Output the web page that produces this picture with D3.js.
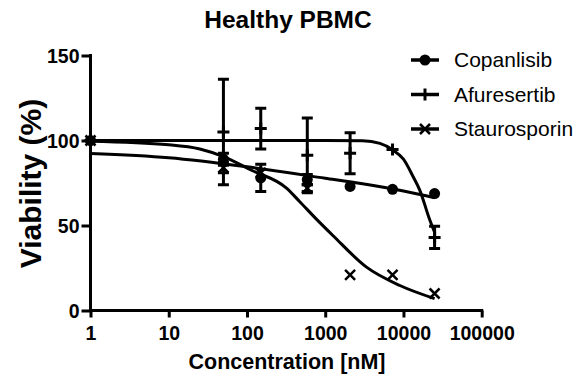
<!DOCTYPE html>
<html>
<head>
<meta charset="utf-8">
<script src="https://cdn.jsdelivr.net/npm/d3@7/dist/d3.min.js"></script>
<style>
  html, body { margin: 0; padding: 0; background: #fff; }
  svg { display: block; font-family: "Liberation Sans", Arial, sans-serif; }
</style>
</head>
<body>
<svg id="chart" width="576" height="376"></svg>
<script>
// ---- data ----
const concentrations = [1, 50, 150, 590, 2080, 7250, 25000];

const copanlisibMean = [100, 89, 78, 77, 73, 71.3, 68.8];
const copanlisibSD   = [0, 3.5, 8, 3, 0, 0, 0];

const afuresertibMean = [100, 105, 107, 91.3, 92.5, 94.7, 43];
const afuresertibSD   = [0, 31, 12, 22, 12, 0, 6.5];

const staurosporinMean = [100, 84, 81, 72, 21, 21, 10];
const staurosporinSD   = [0, 3, 0, 2, 0, 0, 0];

// fitted curves
const copanlisibFitX = [1, 10, 100, 1000, 3000, 10000, 25000];
const copanlisibFitY = [92.3, 89.8, 84.5, 77.8, 74.5, 70.3, 66.3];

const afuresertibFitX = [1, 100, 1000, 3000, 5000, 7250, 10000, 13200, 16100, 21600, 25000];
const afuresertibFitY = [100, 100, 100, 99.8, 98.3, 94.5, 89, 79, 71, 53.5, 46];

const staurosporinFitX = [1, 10, 25, 50, 114, 320, 473, 800, 1260, 3370, 9000, 25000];
const staurosporinFitY = [99.6, 97.5, 95, 90.5, 82.5, 72, 64, 53, 44, 25.5, 14.7, 7];

const seriesNames = ["Copanlisib", "Afuresertib", "Staurosporin"];
const xTickValues = [1, 10, 100, 1000, 10000, 100000];
const yTickValues = [0, 50, 100, 150];

const titleText = "Healthy PBMC";
const xTitle = "Concentration [nM]";
const yTitle = "Viability (%)";

// ---- drawing ----
const svg = d3.select("#chart");
const x = d3.scaleLog().domain([1, 100000]).range([90.5, 481.7]);
const y = d3.scaleLinear().domain([0, 150]).range([310.5, 55.5]);

const series = [
  { name: seriesNames[0], mean: copanlisibMean, sd: copanlisibSD, fx: copanlisibFitX, fy: copanlisibFitY, marker: "circle" },
  { name: seriesNames[1], mean: afuresertibMean, sd: afuresertibSD, fx: afuresertibFitX, fy: afuresertibFitY, marker: "plus" },
  { name: seriesNames[2], mean: staurosporinMean, sd: staurosporinSD, fx: staurosporinFitX, fy: staurosporinFitY, marker: "cross" }
];

// title
svg.append("text")
  .attr("x", 288).attr("y", 28)
  .attr("text-anchor", "middle")
  .attr("font-weight", "bold").attr("font-size", 24.5)
  .text(titleText);

// axes
const xAxis = d3.axisBottom(x).tickValues(xTickValues).tickFormat(d3.format("d")).tickSizeInner(7).tickSizeOuter(0);
const gx = svg.append("g").attr("transform", "translate(0," + y(0) + ")").call(xAxis);
gx.select(".domain").attr("stroke-width", 3).attr("d", "M" + (x(1) - 1.5) + ",0H" + (x(100000) + 1.5));
gx.selectAll(".tick line").attr("stroke-width", 3);
gx.selectAll(".tick text").attr("font-size", 19.5).attr("font-weight", "bold")
  .attr("font-family", "Liberation Sans, Arial, sans-serif").attr("fill", "#000")
  .attr("y", 15.5).attr("dy", "0.71em");

const yAxis = d3.axisLeft(y).tickValues(yTickValues).tickSizeInner(9).tickSizeOuter(0);
const gy = svg.append("g").attr("transform", "translate(" + x(1) + ",0)").call(yAxis);
gy.select(".domain").attr("stroke-width", 3).attr("d", "M0," + (y(0) + 1.5) + "V" + (y(150) - 1.5));
gy.selectAll(".tick line").attr("stroke-width", 3);
gy.selectAll(".tick text").attr("font-size", 19.5).attr("font-weight", "bold")
  .attr("font-family", "Liberation Sans, Arial, sans-serif").attr("fill", "#000")
  .attr("x", -11).attr("dy", "0.36em");

// axis titles
svg.append("text")
  .attr("x", 287).attr("y", 369)
  .attr("text-anchor", "middle")
  .attr("font-weight", "bold").attr("font-size", 21.5)
  .text(xTitle);

svg.append("text")
  .attr("transform", "translate(41," + 183.5 + ") rotate(-90)")
  .attr("text-anchor", "middle")
  .attr("font-weight", "bold").attr("font-size", 30)
  .text(yTitle);

// curves
const line = d3.line().x(d => x(d[0])).y(d => y(d[1])).curve(d3.curveMonotoneX);
series.forEach(s => {
  const pts = s.fx.map((v, i) => [v, s.fy[i]]);
  svg.append("path").attr("d", line(pts)).attr("fill", "none")
    .attr("stroke", "#000").attr("stroke-width", 3);
});

// markers
function drawMarker(g, type, cx, cy) {
  if (type === "circle") {
    g.append("circle").attr("cx", cx).attr("cy", cy).attr("r", 5.5).attr("fill", "#000");
  } else if (type === "plus") {
    g.append("path").attr("d", `M${cx - 6},${cy}H${cx + 6}M${cx},${cy - 6}V${cy + 6}`)
      .attr("stroke", "#000").attr("stroke-width", 3);
  } else {
    g.append("path").attr("d", `M${cx - 5},${cy - 5}L${cx + 5},${cy + 5}M${cx - 5},${cy + 5}L${cx + 5},${cy - 5}`)
      .attr("stroke", "#000").attr("stroke-width", 2.5);
  }
}

series.forEach(s => {
  const g = svg.append("g");
  concentrations.forEach((c, i) => {
    const cx = x(c), m = s.mean[i], sd = s.sd[i];
    if (sd > 0) {
      const y1 = y(m + sd), y2 = y(m - sd);
      g.append("path").attr("d", `M${cx},${y1}V${y2}M${cx - 5.5},${y1}H${cx + 5.5}M${cx - 5.5},${y2}H${cx + 5.5}`)
        .attr("stroke", "#000").attr("stroke-width", 3).attr("fill", "none");
    }
    drawMarker(g, s.marker, cx, y(m));
  });
});

// legend
const legendY = [60, 94.5, 129];
series.forEach((s, i) => {
  const g = svg.append("g");
  const ly = legendY[i];
  g.append("path").attr("d", `M411,${ly}H439`).attr("stroke", "#000").attr("stroke-width", 3.5);
  drawMarker(g, s.marker, 425, ly);
  g.append("text").attr("x", 454).attr("y", ly).attr("dy", "0.35em")
    .attr("font-size", 21).text(s.name);
});
</script>
</body>
</html>
